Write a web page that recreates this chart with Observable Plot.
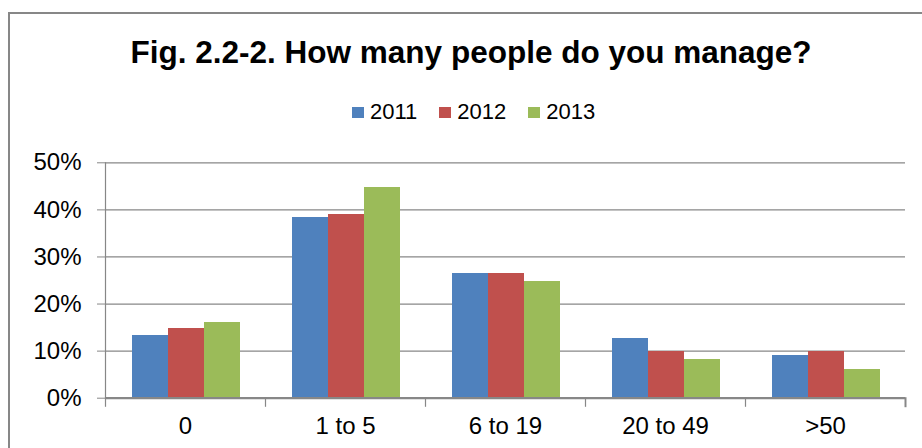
<!DOCTYPE html>
<html>
<head>
<meta charset="utf-8">
<script src="https://cdn.jsdelivr.net/npm/d3@7"></script>
<script src="https://cdn.jsdelivr.net/npm/@observablehq/plot@0.6"></script>
<style>
  html, body { margin: 0; padding: 0; background: #fff; overflow: hidden; }
  body { width: 922px; height: 448px; position: relative; font-family: "Liberation Sans", Arial, sans-serif; }
  #frame { position: absolute; left: 8px; top: 12px; width: 2000px; height: 2000px;
           border-left: 2px solid #878787; border-top: 2px solid #878787; }
  #title { position: absolute; left: 0; top: 37px; width: 942px; text-align: center;
           font-size: 31.5px; line-height: 31px; font-weight: bold; color: #000; }
  #legend { position: absolute; left: 352px; top: 101px; display: flex; align-items: center;
            font-size: 22px; line-height: 22px; color: #000; }
  #legend .item { display: flex; align-items: center; margin-right: 22px; }
  #legend .sw { width: 12px; height: 11px; margin-right: 6px; }
  #chart { position: absolute; left: 0; top: 140px; }
</style>
</head>
<body>
<div id="frame"></div>
<div id="title">Fig. 2.2-2. How many people do you manage?</div>
<div id="legend"></div>
<div id="chart"></div>
<script>
const categories = ["0", "1 to 5", "6 to 19", "20 to 49", ">50"];
const years = ["2011", "2012", "2013"];
const v2011 = [13.3, 38.4, 26.5, 12.7, 9.1];
const v2012 = [14.8, 39.1, 26.5, 10.0, 10.0];
const v2013 = [16.1, 44.7, 24.8, 8.2, 6.1];
const yTicks = [0, 10, 20, 30, 40, 50];
const colors = ["#4F81BD", "#C0504D", "#9BBB59"];

const series = [v2011, v2012, v2013];
const data = [];
categories.forEach((c, i) => years.forEach((y, j) => data.push({cat: c, year: y, value: series[j][i]})));

// legend
const legend = d3.select("#legend");
years.forEach((y, j) => {
  const it = legend.append("div").attr("class", "item");
  it.append("div").attr("class", "sw").style("background", colors[j]);
  it.append("span").text(y);
});

const W = 922, H = 308, mTop = 22.3, mBottom = 50.3;
const plotH = H - mTop - mBottom;
const gray = "#878787";

const chart = Plot.plot({
  width: W,
  height: H,
  marginTop: mTop,
  marginBottom: mBottom,
  marginLeft: 103.5,
  marginRight: 16.5,
  style: {fontFamily: "'Liberation Sans', Arial, sans-serif", color: "#000", background: "transparent"},
  fx: {domain: categories, padding: 0, label: null, axis: null},
  x: {domain: years, paddingInner: 0, paddingOuter: 0.72, axis: null},
  y: {domain: [0, 50], axis: null},
  color: {domain: years, range: colors},
  marks: [
    Plot.ruleY(yTicks.slice(1), {stroke: gray, strokeWidth: 1.3}),
    Plot.barY(data, {fx: "cat", x: "year", y: "value", fill: "year", shapeRendering: "crispEdges"}),
    Plot.ruleY([0], {stroke: gray, strokeWidth: 2.2}),
    Plot.frame({anchor: "left", facetAnchor: "left", stroke: gray, strokeWidth: 1.2}),
    Plot.frame({anchor: "left", insetTop: plotH, insetBottom: -8, stroke: gray, strokeWidth: 1.2}),
    Plot.frame({anchor: "right", facetAnchor: "right", insetTop: plotH, insetBottom: -8, stroke: gray, strokeWidth: 2}),
    Plot.axisY({ticks: yTicks, tickSize: 8, tickPadding: 16, tickFormat: d => d + "%", fontSize: 24, label: null, stroke: gray}),
    Plot.axisFx({anchor: "bottom", tickSize: 0, tickPadding: 18.6, fontSize: 24, label: null})
  ]
});
document.getElementById("chart").appendChild(chart);
</script>
</body>
</html>
